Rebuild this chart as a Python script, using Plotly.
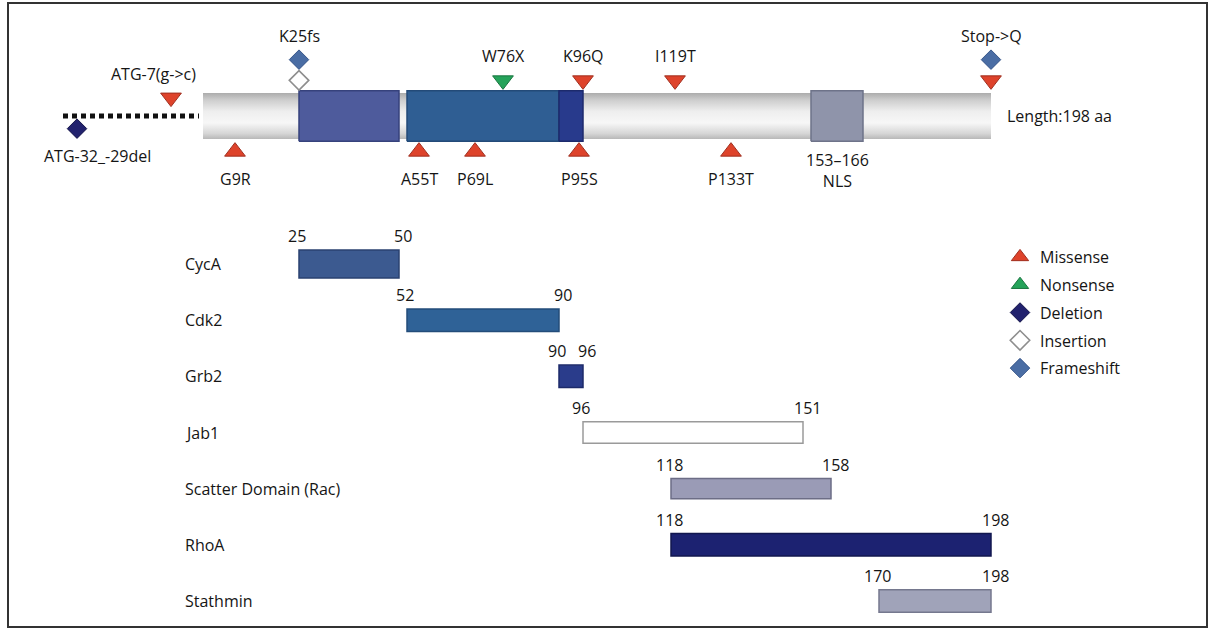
import plotly.graph_objects as go

# ---------------- data ----------------
PROTEIN_LENGTH = 198
UTR_START = -34          # start of the 5' untranslated stretch drawn as a dotted line

# domain boxes on the protein bar
domain_names = ["CycA binding", "Cdk2 binding", "Grb2 binding", "NLS"]
domain_starts = [25, 52, 90, 153]
domain_ends = [50, 90, 96, 166]

# mutations: label, position, mutation type(s) stacked outward, side of the bar
mut_labels = ["ATG-32_-29del", "ATG-7(g->c)", "G9R", "K25fs", "A55T", "P69L",
              "W76X", "P95S", "K96Q", "I119T", "P133T", "Stop->Q"]
mut_pos = [-30.5, -7, 9, 25, 55, 69, 76, 95, 96, 119, 133, 198]
mut_types = [["Deletion"], ["Missense"], ["Missense"], ["Insertion", "Frameshift"],
             ["Missense"], ["Missense"], ["Nonsense"], ["Missense"], ["Missense"],
             ["Missense"], ["Missense"], ["Missense", "Frameshift"]]
mut_side = ["below", "above", "below", "above", "below", "below",
            "above", "below", "above", "above", "below", "above"]

# interaction partners and their binding regions
partners = ["CycA", "Cdk2", "Grb2", "Jab1", "Scatter Domain (Rac)", "RhoA", "Stathmin"]
partner_start = [25, 52, 90, 96, 118, 118, 170]
partner_end = [50, 90, 96, 151, 158, 198, 198]

# ---------------- styling ----------------
FONT = "Open Sans"
TEXT = "#151515"
W, H = 1213, 632
PX_PER_AA = 4.0
AA0_PX = 199.0                       # pixel column of residue 0
TOP_PX = 210                         # height of the protein panel
UNIT_PX = 23.0                       # half height of the protein bar
BAR_CENTER_PX = 116.0

domain_style = {
    "CycA binding": ("#4e5b9c", "#36427c"),
    "Cdk2 binding": ("#2f5e93", "#234a78"),
    "Grb2 binding": ("#283a8c", "#1c2a6c"),
    "NLS": ("#8f94aa", "#6e7389"),
}
type_style = {
    "Missense": dict(color="#de432b", line=dict(color="#a02e1e", width=1)),
    "Nonsense": dict(color="#25a35a", line=dict(color="#17743e", width=1)),
    "Deletion": dict(color="#22226e", line=dict(color="#141449", width=1)),
    "Insertion": dict(color="#ffffff", line=dict(color="#8e8e8e", width=1.6)),
    "Frameshift": dict(color="#4a6da4", line=dict(color="#37568a", width=1)),
}
legend_symbol = {"Missense": "triangle-up", "Nonsense": "triangle-up",
                 "Deletion": "diamond", "Insertion": "diamond", "Frameshift": "diamond"}
partner_style = {
    "CycA": ("#3c5a90", "#2a4170", 0.5),
    "Cdk2": ("#2f6297", "#234c7a", 0.4),
    "Grb2": ("#2a3c8b", "#1c2a6a", 0.4),
    "Jab1": ("#ffffff", "#9a9a9a", 0.38),
    "Scatter Domain (Rac)": ("#9a9bb6", "#6c6d86", 0.36),
    "RhoA": ("#1c2271", "#12174f", 0.4),
    "Stathmin": ("#a0a3b9", "#75788e", 0.4),
}

fig = go.Figure()

# ---------------- protein panel ----------------
L = PROTEIN_LENGTH
fig.add_trace(go.Scatter(
    x=[1, L, L, 1, 1], y=[-1, -1, 1, 1, -1], mode="lines", fill="toself",
    line=dict(width=0), hoverinfo="skip", showlegend=False,
    fillgradient=dict(type="vertical", colorscale=[
        [0.0, "#b8b8b8"], [0.12, "#d6d6d6"], [0.35, "#f7f7f7"],
        [0.6, "#eeeeee"], [0.85, "#cdcdcd"], [1.0, "#acacac"]]),
))

# dotted 5' UTR
fig.add_trace(go.Scatter(
    x=[UTR_START, 0], y=[0, 0], mode="lines", hoverinfo="skip", showlegend=False,
    line=dict(color="#111111", width=5, dash="5px,4px"),
))

# domain boxes
for name, s, e in zip(domain_names, domain_starts, domain_ends):
    fill, edge = domain_style[name]
    fig.add_trace(go.Scatter(
        x=[s, e, e, s, s], y=[-1.1, -1.1, 1.1, 1.1, -1.1], mode="lines",
        fill="toself", fillcolor=fill, line=dict(color=edge, width=1.5),
        hoverinfo="skip", showlegend=False,
    ))

nls = domain_names.index("NLS")
fig.add_annotation(
    x=(domain_starts[nls] + domain_ends[nls]) / 2, y=-1.1, yanchor="top", yshift=-6,
    text=f"{domain_starts[nls]}–{domain_ends[nls]}<br>NLS", showarrow=False,
    font=dict(family=FONT, size=16, color=TEXT),
)
fig.add_annotation(
    x=L, y=0, xanchor="left", xshift=14, text=f"Length:{L} aa", showarrow=False,
    font=dict(family=FONT, size=16, color=TEXT),
)

# mutation markers, stacked away from the bar
points = {t: dict(x=[], y=[], symbol=[]) for t in type_style}
for label, pos, kinds, side in zip(mut_labels, mut_pos, mut_types, mut_side):
    upstream = pos < 1
    sign = 1 if side == "above" else -1
    base = (0.8 if side == "above" else 0.55) if upstream else 1.55
    ys = []
    for k, kind in enumerate(kinds):
        y = sign * (base + 0.9 * k)
        ys.append(y)
        if kind in ("Missense", "Nonsense"):
            sym = "triangle-down" if side == "above" else "triangle-up"
        else:
            sym = "diamond"
        points[kind]["x"].append(pos)
        points[kind]["y"].append(y)
        points[kind]["symbol"].append(sym)
    outer = ys[-1]
    xshift = {"ATG-7(g->c)": -18, "ATG-32_-29del": 20}.get(label, 0)
    fig.add_annotation(
        x=pos, y=outer, yshift=24 if side == "above" else -27, xshift=xshift,
        text=label, showarrow=False, font=dict(family=FONT, size=16, color=TEXT),
    )

for kind, pts in points.items():
    fig.add_trace(go.Scatter(
        x=pts["x"], y=pts["y"], mode="markers", showlegend=False, hoverinfo="skip",
        marker=dict(symbol=pts["symbol"], size=18 if kind in ("Missense", "Nonsense") else 15,
                    **type_style[kind]),
    ))

# legend keys
for kind in ["Missense", "Nonsense", "Deletion", "Insertion", "Frameshift"]:
    fig.add_trace(go.Scatter(
        x=[None], y=[None], mode="markers", name=kind, legendgroup=kind,
        marker=dict(symbol=legend_symbol[kind], size=15, **type_style[kind]),
    ))

# ---------------- interaction partners ----------------
fig.add_trace(go.Bar(
    y=partners, x=[e - s for s, e in zip(partner_start, partner_end)], base=partner_start,
    orientation="h", yaxis="y2", showlegend=False, hoverinfo="skip",
    width=[partner_style[p][2] for p in partners],
    marker=dict(color=[partner_style[p][0] for p in partners],
                line=dict(color=[partner_style[p][1] for p in partners], width=1.5)),
))

ROW_PX = (601 - 264) / 6
for p, s, e in zip(partners, partner_start, partner_end):
    fig.add_annotation(
        xref="paper", x=183 / W, yref="y2", y=p, xanchor="left", text=p,
        showarrow=False, font=dict(family=FONT, size=16, color=TEXT),
    )
    half = partner_style[p][2] * ROW_PX / 2
    for val, dx in ((s, -2), (e, 4)):
        fig.add_annotation(
            x=val, yref="y2", y=p, yanchor="bottom", yshift=half + 1, xshift=dx,
            text=str(val), showarrow=False, font=dict(family=FONT, size=16, color=TEXT),
        )

# frame
fig.add_shape(type="rect", xref="paper", yref="paper",
              x0=8 / W, x1=1207 / W, y0=1 - 627 / H, y1=1 - 3 / H,
              line=dict(color="#333333", width=2))

split = 1 - TOP_PX / H
fig.update_layout(
    width=W, height=H, margin=dict(l=0, r=0, t=0, b=0),
    paper_bgcolor="white", plot_bgcolor="white",
    xaxis=dict(range=[-AA0_PX / PX_PER_AA, (W - AA0_PX) / PX_PER_AA], visible=False,
               fixedrange=True),
    yaxis=dict(domain=[split, 1], visible=False,
               range=[-(TOP_PX - BAR_CENTER_PX) / UNIT_PX, BAR_CENTER_PX / UNIT_PX]),
    yaxis2=dict(domain=[0, split], visible=False, anchor="x", type="category",
                categoryarray=partners,
                range=[6 + (H - 601) / ROW_PX, -(264 - TOP_PX) / ROW_PX]),
    legend=dict(x=1000 / W, y=1 - 240 / H, xanchor="left", yanchor="top",
                bgcolor="rgba(0,0,0,0)", tracegroupgap=4,
                font=dict(family=FONT, size=16, color=TEXT)),
    showlegend=True,
)

fig.write_html("out.html")
